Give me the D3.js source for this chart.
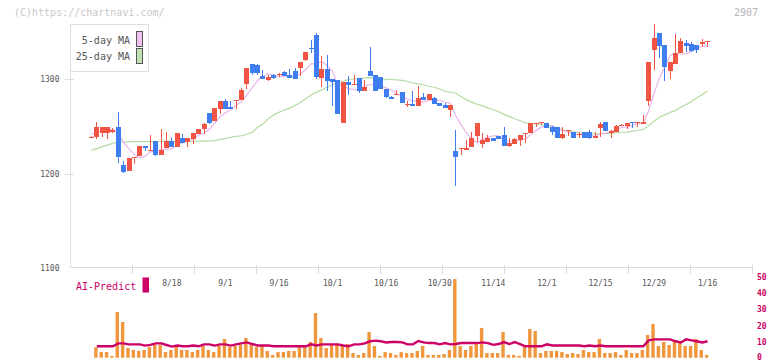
<!DOCTYPE html>
<html><head><meta charset="utf-8">
<script src="https://cdn.jsdelivr.net/npm/d3@7"></script>
<style>
html,body{margin:0;padding:0;background:#fff;overflow:hidden}
svg{display:block}
text{font-family:"DejaVu Sans Mono","Liberation Mono",monospace}
</style>
</head><body>
<svg id="chart" width="772" height="361"></svg>
<script>
const dates = ["7/25","7/28","7/29","7/30","7/31","8/1","8/4","8/5","8/6","8/7","8/8","8/12","8/13","8/14","8/15","8/18","8/19","8/20","8/21","8/22","8/25","8/26","8/27","8/28","8/29","9/1","9/2","9/3","9/4","9/5","9/8","9/9","9/10","9/11","9/12","9/16","9/17","9/18","9/19","9/22","9/24","9/25","9/26","9/29","9/30","10/1","10/2","10/3","10/6","10/7","10/8","10/9","10/10","10/14","10/15","10/16","10/17","10/20","10/21","10/22","10/23","10/24","10/27","10/28","10/29","10/30","10/31","11/4","11/5","11/6","11/7","11/10","11/11","11/12","11/13","11/14","11/17","11/18","11/19","11/20","11/21","11/25","11/26","11/27","11/28","12/1","12/2","12/3","12/4","12/5","12/8","12/9","12/10","12/11","12/12","12/15","12/16","12/17","12/18","12/19","12/22","12/23","12/24","12/25","12/26","12/29","12/30","1/5","1/6","1/7","1/8","1/9","1/13","1/14","1/15","1/16"];

const open = [1239,1239,1243,1243,1244,1250,1210,1203,1217,1219, 1230,1224,1235,1220.5,1227,1234.5,1229,1238,1233.5,1237, 1242.5,1248,1264.5,1256,1269,1277,1271,1278,1278,1295, 1316,1315,1303.5,1299.5,1304.5,1305,1307.5,1304.5,1308.5,1312, 1320,1333.5,1346.5,1301.5,1311,1300,1299,1254,1297,1294.5, 1301.5,1288,1308.5,1304.5,1302.5,1290,1281.5,1284,1286.5,1273.5, 1274,1272,1281.5,1278.5,1280.5,1275,1273,1268,1224.5,1226.5, 1225.5,1229,1240.5,1232,1234,1238.5,1240.5,1241.5,1230,1232, 1236,1243,1243.5,1253.5,1254,1254,1250,1250,1238.5,1245.5, 1244.5,1242,1244.5,1244.5,1238.5,1249,1255,1243.5,1244.5,1251.5, 1251,1254.5,1254,1253,1277,1331,1348.5,1336,1308.5,1316, 1327.5,1338,1337,1336,1337,1340];

const high = [1240,1255,1250,1250,1249,1266,1214,1217,1218.5,1230, 1230,1241,1235,1248,1244.5,1238,1243.5,1242.5,1238,1243.5, 1248,1254,1264.5,1270,1277,1279,1277,1278.5,1291,1312, 1316.5,1316,1310,1304.5,1305.5,1306.5,1309,1311,1312,1318, 1328.5,1341,1348.5,1324.5,1325.5,1300,1299,1297,1303.5,1304.5, 1301.5,1299,1334,1304.5,1302.5,1290,1282.5,1289,1286.5,1277, 1287.5,1293,1285.5,1284.5,1281.5,1275,1275,1273,1246.5,1227, 1236,1244.5,1254,1243.5,1241.5,1238.5,1240.5,1250,1238.5,1238.5, 1241.5,1243.5,1254,1254,1255,1254,1251,1250,1250,1246.5, 1244.5,1244.5,1244.5,1247,1244.5,1255,1255,1246.5,1252,1253, 1254,1254.5,1254.5,1262.5,1318,1358,1348.5,1336,1318,1347.5, 1343.5,1341.5,1339,1336,1342.5,1340.5];

const low = [1238.5,1237,1239,1237,1243,1212,1201,1203,1211,1219, 1224,1224,1219.5,1220,1227,1229,1229,1233,1229,1232, 1242.5,1242.5,1253,1256,1263.5,1269,1269,1269,1278,1290, 1304.5,1304.5,1300,1298,1300.5,1302.5,1303.5,1301.5,1300,1303.5, 1319,1327.5,1300,1292,1287.5,1272,1263.5,1254,1283.5,1294.5, 1285.5,1288,1303.5,1288,1290,1280.5,1279.5,1284,1275,1271, 1272,1272,1278.5,1278.5,1274,1272,1270,1260.5,1187,1220.5, 1225.5,1229,1234,1227,1234,1235,1236.5,1230,1229,1232, 1230,1233,1243.5,1250,1252,1249,1241.5,1238.5,1237,1240.5, 1238.5,1238.5,1238.5,1237,1238.5,1239.5,1245.5,1238.5,1244.5,1251, 1248,1249,1249.5,1253,1272,1310,1322.5,1298,1300,1316, 1327.5,1328.5,1328.5,1327.5,1334,1334];

const close = [1239.5,1250,1250,1250,1247,1218,1202,1217,1218.5,1230, 1227,1225,1220.5,1225,1234.5,1229,1243.5,1233,1238,1243.5, 1248,1253,1254,1270,1277,1269,1269,1278.5,1289,1312, 1307,1307,1300.5,1302.5,1301.5,1305.5,1303.5,1301.5,1300.3,1318, 1328.5,1332.5,1302.5,1311,1298,1297,1263.5,1297,1294,1295, 1288,1292,1303.5,1288,1290,1281.5,1279.5,1284.5,1275,1274, 1272,1280.5,1278.5,1284.5,1274,1272,1270,1273,1217.5,1227, 1228,1238.5,1254,1236,1238.5,1235,1237.5,1230,1233,1237.5, 1241.5,1243.5,1254,1254,1254.5,1249,1244.5,1238.5,1242.5,1246.5, 1238.5,1242.5,1238.5,1238.5,1240.5,1253,1245.5,1245.5,1251,1252, 1254,1254,1254.5,1255,1318,1343.5,1335,1313,1318,1327.5, 1340,1335,1329.5,1331,1339,1340.5];

const ma5 = [1242,1244,1246,1247.5,1247.3,1243,1233.4,1226.8,1220.5,1217.1, 1218.9,1223.5,1224.2,1225.5,1226.4,1226.8,1230.5,1233,1235.6,1237.4, 1241.2,1243.1,1247.3,1253.7,1260.4,1264.6,1267.8,1272.7,1276.5,1283.5, 1291.1,1298.7,1303.1,1305.8,1303.7,1303.4,1302.7,1302.9,1302.5,1305.8, 1310.4,1316.2,1316.4,1318.5,1314.5,1308.2,1294.4,1293.3,1289.9,1289.3, 1287.5,1293.2,1294.5,1293.3,1292.3,1291,1288.5,1284.7,1282.1,1278.9, 1277,1277.2,1276,1277.9,1277.9,1277.9,1275.8,1274.7,1261.3,1251.9, 1243.1,1236.8,1233,1236.7,1239,1240.4,1240.2,1235.4,1234.8,1234.6, 1235.9,1237.1,1241.9,1246.1,1249.5,1251,1251.2,1248.1,1245.8,1244.2, 1242.1,1241.7,1241.7,1240.9,1239.7,1242.6,1243.2,1244.6,1247.1,1249.4, 1249.6,1251.3,1253.1,1253.9,1267.1,1285,1301.2,1312.9,1325.5,1327.4, 1326.7,1326.7,1330,1332.6,1334.9,1335];

const ma25 = [1225.2,1226.8,1228.9,1230.5,1232.6,1233.8,1234,1234,1234.2,1234.2, 1234.3,1234.3,1234.3,1234.4,1234.4,1234.4,1234.5,1234.5,1234.5,1234.6, 1234.7,1234.8,1235,1235.2,1236.6,1237.6,1238.7,1239.7,1240.4,1242, 1244.1,1249.4,1253,1258.3,1262.5,1265.1,1267.8,1269.5,1272.5,1275.5, 1279.5,1283.5,1286.5,1288.8,1291.9,1294.5,1296.8,1298.2,1299.8,1300.3, 1300.8,1301.4,1301.7,1301.4,1300.6,1300,1299.8,1299.3,1298.9,1297.7, 1296.1,1295.1,1294,1292.4,1291.6,1289.8,1287.4,1286.3,1285.3,1281.9, 1278.3,1275.6,1273.7,1272,1269.9,1267.8,1265.7,1263,1260.9,1258.3, 1256.2,1254.1,1253.6,1253,1252,1250.9,1249.4,1248.3,1246.7,1245.7, 1244.6,1243.6,1243.1,1242.5,1242.5,1242.5,1242.8,1243.1,1243.6,1244.1, 1244.3,1245.2,1246.2,1247.3,1250.9,1255.7,1259.9,1262.5,1265.1,1267.2, 1270.4,1273.5,1276.7,1280.4,1284,1287.7];

const volume = [null,6.5,3.5,3.5,1.1,28.4,22.2,6,4.8,4.2, 4.8,6.7,7.9,7.9,3.5,4.8,6.7,4.8,4.8,3.5, 4.8,7.3,4.8,3.5,7.3,11.6,6.7,7.3,7.9,12.3, 7.9,6.7,7.9,4.2,1.7,3.5,3.5,4.2,4.2,6.7, 7.3,9.8,27.8,12.3,6,8.5,7.9,7.3,8.5,2.9, 1.7,2.9,16,7.3,1.1,3.5,2.9,1.7,3.5,2.9, 2.9,4.2,7.3,1.7,1.7,1.7,2.3,4.8,48.9,7.3, 4.8,7.3,9.1,18.5,2.9,2.9,2.9,16,1.7,1.7, 1.1,7.3,17.8,16.6,2.9,4.2,4.2,4.2,3.5,2.3, 2.9,2.3,4.8,3.5,3.5,11.6,2.9,2.9,3.5,1.7, 4.8,2.9,2.9,4.8,14.1,21,7.3,9.8,7.9,9.8, 10.4,7.3,7.3,11.6,4.8,1.7];

const aiPredict = [null,7.1,7.1,7.1,7.1,8.9,8.9,8.3,8.3,8.3, 7.5,8,8.9,8.9,7.9,6.9,7.6,7.1,7.1,7.6, 7.1,8.3,8.3,7.5,8.3,8.3,7.5,8.3,8.9,9.5, 8.5,7.6,7.6,7.6,7.1,7.1,7.1,7.1,7.1,7.1, 7.1,8.3,7.6,8.3,8.3,8.3,8.3,7.6,7.1,8.3, 8.3,8.9,10.2,10.6,10.2,9.5,9.8,9.8,9.5,8.3, 8.3,10.4,9.5,9.1,9.1,8.3,9.1,8.3,8.5,9.1, 9.1,9.1,9.1,9.5,9.1,8,8.5,9.7,8.5,9.7, 8.5,7.1,7.1,7.1,7.1,8.3,7.6,7.6,7.6,7.6, 7.6,7.6,7.1,7.6,7.1,7.6,7.1,7.1,7.1,7.1, 7.1,7.1,7.1,7.1,10.8,11.4,11.4,11.4,11.4,10.2, 9.5,11.4,10.8,10.2,9.5,10.2];

const tickLabels = ["8/18","9/1","9/16","10/1","10/16","10/30","11/14","12/1","12/15","12/29","1/16"];
const priceTicks = [1100, 1200, 1300];
const volTicks = [0, 10, 20, 30, 40, 50];
const legendItems = ["5-day MA", "25-day MA"];

const UP = "#f25443", DOWN = "#3f7ef0";
const MA5C = "#e9b4ea", MA25C = "#b5dba4", AIC = "#cc0066", VOLC = "#f0963c";

const svg = d3.select("#chart");
const x = d3.scalePoint().domain(dates).range([91.5, 707.6]);
const y = d3.scaleLinear().domain([1100, 1300]).range([268.8, 79.3]);
const yv = d3.scaleLinear().domain([0, 50]).range([357.7, 277.3]);
const grid = d3.scaleLinear().domain([0, 11]).range([70.5, 752.3]);

svg.append("text").attr("x", 14).attr("y", 16).attr("font-size", 10).attr("fill", "#c8c8c8").text("(C)https://chartnavi.com/");
svg.append("text").attr("x", 758).attr("y", 16).attr("font-size", 10).attr("fill", "#b4b4b4").attr("text-anchor", "end").text("2907");

svg.append("line").attr("x1", 70.5).attr("x2", 70.5).attr("y1", 24).attr("y2", 268).attr("stroke", "#e0e0e0");
svg.append("line").attr("x1", 70).attr("x2", 752.5).attr("y1", 267.5).attr("y2", 267.5).attr("stroke", "#dcdcdc");
svg.selectAll(".gt").data(d3.range(1, 12)).join("line")
  .attr("x1", d => Math.round(grid(d)) + 0.5).attr("x2", d => Math.round(grid(d)) + 0.5)
  .attr("y1", 265).attr("y2", 274).attr("stroke", "#dcdcdc");
svg.selectAll(".pt").data(priceTicks.filter(d => d > 1100)).join("line")
  .attr("x1", 64.5).attr("x2", 74).attr("y1", d => Math.round(y(d)) + 0.5).attr("y2", d => Math.round(y(d)) + 0.5).attr("stroke", "#dcdcdc");
svg.selectAll(".pl").data(priceTicks).join("text")
  .attr("x", 59.5).attr("y", d => (d === 1100 ? 267.5 : y(d)) + 3).attr("text-anchor", "end")
  .attr("font-size", 8).attr("fill", "#555").text(d => d);

svg.selectAll(".dl").data(tickLabels).join("text")
  .attr("x", d => x(d)).attr("y", 285.5).attr("text-anchor", "middle")
  .attr("font-size", 8).attr("fill", "#555").text(d => d);

const idx = d3.range(dates.length);
const lineOf = arr => d3.line().defined(i => arr[i] != null).x(i => x(dates[i])).y(i => y(arr[i]));
svg.append("path").attr("d", lineOf(ma25)(idx)).attr("fill", "none").attr("stroke", MA25C).attr("stroke-width", 1.2);
svg.append("path").attr("d", lineOf(ma5)(idx)).attr("fill", "none").attr("stroke", MA5C).attr("stroke-width", 1.2);

const cg = svg.append("g").attr("shape-rendering", "crispEdges");
idx.forEach(i => {
  const cx = x(dates[i]);
  const col = close[i] >= open[i] ? UP : DOWN;
  const wx = Math.floor(cx) + 0.5;
  cg.append("line").attr("x1", wx).attr("x2", wx).attr("y1", y(high[i])).attr("y2", y(low[i])).attr("stroke", col);
  const top = y(Math.max(open[i], close[i])), bot = y(Math.min(open[i], close[i]));
  cg.append("rect").attr("x", Math.floor(cx) - 2).attr("width", 5)
    .attr("y", top).attr("height", Math.max(1, bot - top)).attr("fill", col);
});

svg.append("rect").attr("x", 70.5).attr("y", 24.5).attr("width", 78).attr("height", 47).attr("fill", "#fff").attr("stroke", "#dedede");
svg.selectAll(".lt").data(legendItems).join("text")
  .attr("x", 130).attr("y", (d, i) => 43.5 + i * 16.5).attr("text-anchor", "end")
  .attr("font-size", 10).attr("fill", "#555").text(d => d);
svg.selectAll(".ls").data(legendItems).join("rect")
  .attr("x", 136.5).attr("y", (d, i) => 31.5 + i * 17).attr("width", 6).attr("height", 15)
  .attr("fill", (d, i) => i ? "#c2e2b4" : "#f0c2f0").attr("stroke", "#555").attr("stroke-width", 1);

svg.append("text").attr("x", 76).attr("y", 289.5).attr("font-size", 10).attr("fill", AIC).text("AI-Predict");
svg.append("rect").attr("x", 142.5).attr("y", 277.5).attr("width", 6.5).attr("height", 15).attr("fill", AIC);
svg.selectAll(".vl").data(volTicks).join("text")
  .attr("x", 757).attr("y", d => Math.min(yv(d) + 3, 359.5)).attr("font-size", 8).attr("font-weight", "bold")
  .attr("fill", AIC).text(d => d);

svg.append("g").selectAll("rect").data(idx.filter(i => volume[i] != null)).join("rect")
  .attr("x", i => x(dates[i]) - 2.7).attr("width", 3.4)
  .attr("y", i => yv(volume[i])).attr("height", i => yv(0) - yv(volume[i]))
  .attr("fill", VOLC);

svg.append("path").attr("d", d3.line().defined(i => aiPredict[i] != null)
    .x(i => x(dates[i])).y(i => yv(aiPredict[i]))(idx))
  .attr("fill", "none").attr("stroke", AIC).attr("stroke-width", 2.4).attr("stroke-linejoin", "miter");
</script>
</body></html>
